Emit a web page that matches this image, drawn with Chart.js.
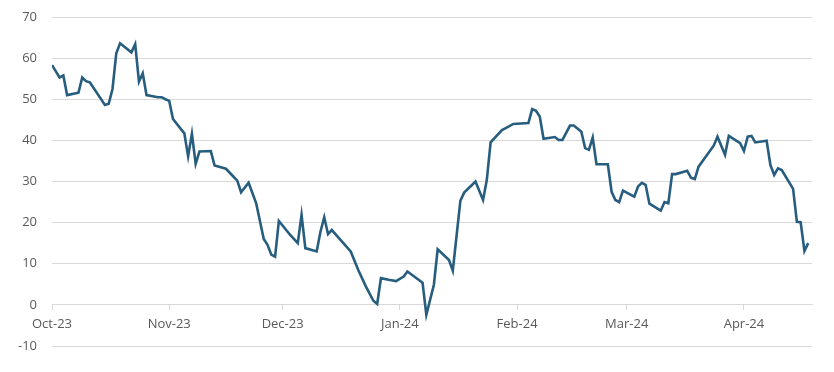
<!DOCTYPE html>
<html>
<head>
<meta charset="utf-8">
<script src="https://cdn.jsdelivr.net/npm/chart.js@4.4.1/dist/chart.umd.min.js"></script>
<style>
    html, body { margin: 0; padding: 0; background: #fff; }
    #wrap { width: 834px; height: 372px; }
</style>
</head>
<body>
<div id="wrap"><canvas id="spread-chart" width="834" height="372"></canvas></div>
<script>
// days counted from 1 Oct 2023
var dayOffsets = [
    0, 2, 3, 4, 7, 8, 9, 10, 14, 15, 16, 17, 18, 21, 22, 23, 24, 25, 28, 29, 30,
    31, 32, 35, 36, 37, 38, 39, 42, 43, 46, 49, 50, 52, 54, 56, 57, 58, 59,
    60, 63, 65, 66, 67, 70, 71, 72, 73, 74, 79, 81, 83, 85, 86, 87, 89, 91,
    93, 94, 98, 99, 101, 102, 105, 106, 108, 109, 112, 114, 115, 116, 119, 120, 122,
    126, 127, 128, 129, 130, 133, 134, 135, 137, 138, 140, 141, 142, 143, 144, 147, 148, 149, 150, 151,
    154, 155, 156, 157, 158, 161, 162, 163, 164, 165, 168, 169, 170, 171, 175, 176, 178, 179, 182,
    183, 184, 185, 186, 189, 190, 191, 192, 193, 196, 197, 198, 199, 200
];
var values = [
    58.3, 55.3, 55.8, 51.0, 51.6, 55.3, 54.4, 54.1, 48.6, 48.9, 52.5, 61.2, 63.6, 61.4, 63.4, 54.3, 56.3, 51.0, 50.5, 50.5, 50.0,
    49.6, 45.2, 41.7, 36.1, 41.6, 34.3, 37.3, 37.4, 33.9, 33.1, 30.2, 27.4, 29.7, 24.7, 16.0, 14.6, 12.2, 11.7,
    20.4, 17.0, 15.0, 21.9, 13.8, 13.0, 17.8, 21.3, 17.2, 18.2, 13.0, 8.5, 4.5, 1.0, 0.2, 6.5, 6.1, 5.8,
    6.9, 8.1, 5.4, -2.4, 4.9, 13.5, 10.9, 8.3, 25.3, 27.3, 30.0, 25.5, 30.4, 39.5, 42.5, 43.0, 44.0,
    44.2, 47.6, 47.2, 45.8, 40.4, 40.8, 40.1, 40.1, 43.6, 43.6, 42.1, 38.1, 37.7, 40.7, 34.2, 34.2, 27.5, 25.5, 25.0, 27.8,
    26.3, 28.8, 29.7, 29.2, 24.6, 22.9, 25.0, 24.7, 31.8, 31.8, 32.6, 30.9, 30.6, 33.6, 38.7, 40.9, 36.5, 41.1, 39.3,
    37.4, 40.9, 41.1, 39.5, 39.9, 34.0, 31.6, 33.2, 32.8, 28.2, 20.2, 20.1, 13.1, 15.0
];
var monthTicks = [0, 31, 61, 92, 123, 152, 183];
var monthLabels = ['Oct-23', 'Nov-23', 'Dec-23', 'Jan-24', 'Feb-24', 'Mar-24', 'Apr-24'];

var points = dayOffsets.map(function (d, i) {
    return { x: d, y: values[i] };
});

var labelFont = { family: '"Open Sans", sans-serif', size: 13 };

new Chart(document.getElementById('spread-chart').getContext('2d'), {
    type: 'line',
    data: {
        datasets: [{
            data: points,
            borderColor: '#275d7e',
            borderWidth: 2.6,
            pointRadius: 0,
            tension: 0,
            fill: false
        }]
    },
    options: {
        responsive: false,
        animation: false,
        layout: { padding: { top: 17, right: 22, bottom: 26, left: 0 } },
        plugins: { legend: { display: false }, tooltip: { enabled: false } },
        scales: {
            x: {
                type: 'linear',
                position: { y: 0 },
                min: 0,
                max: 201,
                afterBuildTicks: function (scale) {
                    scale.ticks = monthTicks.map(function (v) { return { value: v }; });
                },
                grid: { drawOnChartArea: false, drawTicks: true, tickLength: 5, color: '#d9d9d9' },
                border: { display: true, color: '#d9d9d9' },
                ticks: {
                    color: '#595959',
                    font: labelFont,
                    padding: 7,
                    maxRotation: 0,
                    autoSkip: false,
                    callback: function (value) {
                        var i = monthTicks.indexOf(value);
                        return i >= 0 ? monthLabels[i] : '';
                    }
                }
            },
            y: {
                min: -10,
                max: 70,
                afterFit: function (scale) {
                    scale.width = 52;
                    scale.paddingTop = 0;
                    scale.paddingBottom = 0;
                },
                grid: { color: '#d9d9d9', drawTicks: false },
                border: { display: false },
                ticks: {
                    stepSize: 10,
                    color: '#595959',
                    font: labelFont,
                    padding: 15
                }
            }
        }
    }
});
</script>
</body>
</html>
